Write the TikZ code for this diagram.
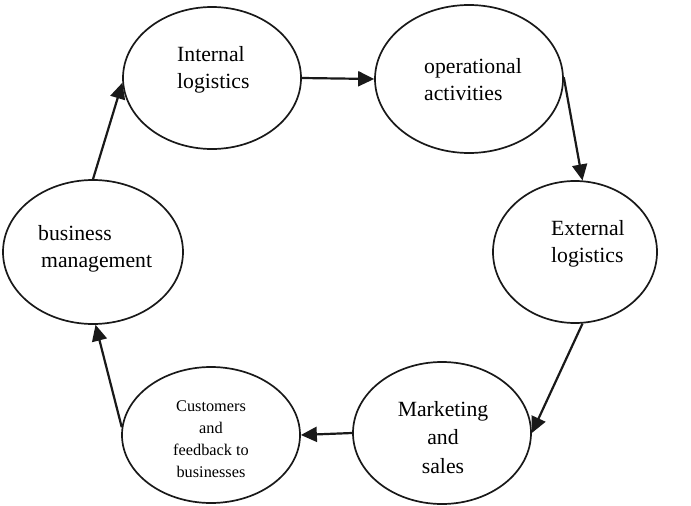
\documentclass[tikz,border=0pt]{standalone}
\usepackage{fontspec}
\setmainfont{Liberation Serif}
\usetikzlibrary{shapes.geometric,arrows.meta}
\begin{document}
\begin{tikzpicture}[x=1pt,y=-1pt,
  oval/.style={draw=black!90,line width=1.7pt,ellipse,inner sep=0pt},
  lbl/.style={inner sep=0pt,font=\fontsize{21.7}{27}\selectfont},
  small/.style={inner sep=0pt,font=\fontsize{16.3}{21.7}\selectfont},
  flow/.style={draw=black!90,line width=2.2pt,-{Triangle[length=16pt,width=15pt]}}]
\useasboundingbox (0,0) rectangle (691,506);
% ellipses
\node[oval,minimum width=178pt,minimum height=142pt] (il) at (212,78) {};
\node[oval,minimum width=188pt,minimum height=148pt] (oa) at (469,79) {};
\node[oval,minimum width=164pt,minimum height=142pt] (el) at (575,252) {};
\node[oval,minimum width=178pt,minimum height=142pt] (ms) at (442,433) {};
\node[oval,minimum width=178pt,minimum height=136pt] (cf) at (211,435) {};
\node[oval,minimum width=180pt,minimum height=144pt] (bm) at (93,252) {};
% labels (base anchor = baseline of last line)
\node[lbl,anchor=base west,align=left] (t1) at (177,88) {Internal\\logistics};
\node[lbl,anchor=base west,align=left] (t2) at (424,100) {operational\\activities};
\node[lbl,anchor=base west,align=left] (t3) at (551,262) {External\\logistics};
\node[lbl,anchor=base,align=center,font=\fontsize{21.7}{28.5}\selectfont] (t4) at (443,473) {Marketing\\and\\sales};
\node[small,anchor=base,align=center] (t5) at (211,477) {Customers\\and\\feedback to\\businesses};
\node[lbl,anchor=base west,align=left] (t6) at (38,267) {business\\\hspace*{3pt}management};
% connectors
\draw[flow] (bm.90) -- (il.183);
\draw[flow] (il.0) -- (oa.180);
\draw[flow] (oa.1) -- (el.84);
\draw[flow] (el.276) -- (ms.0);
\draw[flow] (ms.180) -- (cf.0);
\draw[flow] (cf.175) -- (bm.272);
\end{tikzpicture}
\end{document}
